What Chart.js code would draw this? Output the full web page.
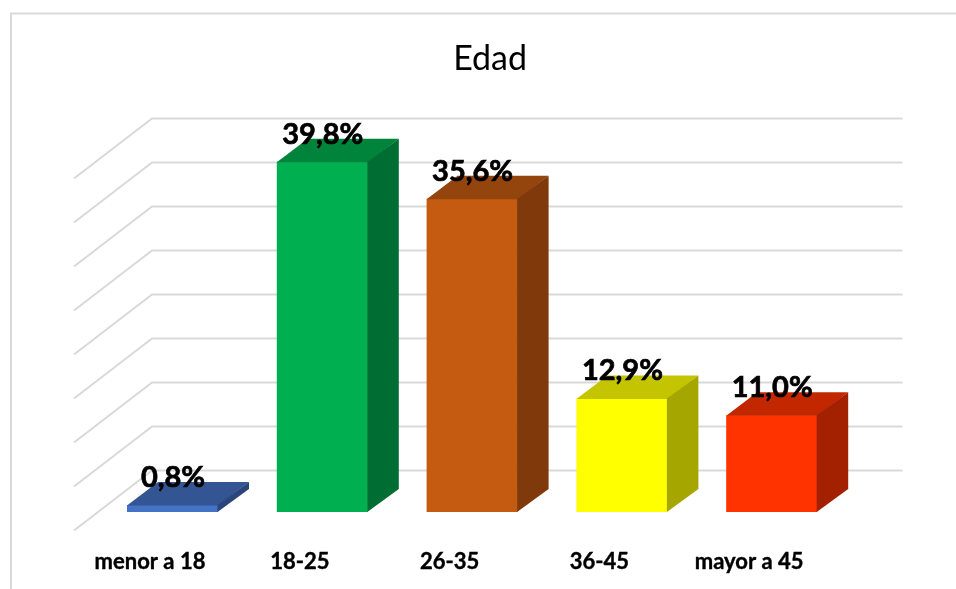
<!DOCTYPE html>
<html><head><meta charset="utf-8">
<style>html,body{margin:0;padding:0;background:#fff}canvas{display:block}</style>
<script src="https://cdn.jsdelivr.net/npm/chart.js@4"></script>
</head><body>
<canvas id="c" width="956" height="589"></canvas>
<script>
const categories = ['menor a 18', '18-25', '26-35', '36-45', 'mayor a 45'];
const values = [0.8, 39.8, 35.6, 12.9, 11.0];
const valueLabels = ['0,8%', '39,8%', '35,6%', '12,9%', '11,0%'];
const frontColors = ['#4472C4', '#00B050', '#C55A11', '#FFFF00', '#FF3300'];
const topColors = ['#335593', '#00843C', '#94440D', '#C4C400', '#C22700'];
const sideColors = ['#2A4679', '#006E32', '#7F390B', '#A6A600', '#A32100'];

const DEPTH_X = 31, DEPTH_Y = 23;
const WALL_SHIFT = 41.5, WALL_LEFT = 152, WALL_RIGHT = 902.5, WALL_DX = 78, WALL_DY = 60;

const scene = {
  id: 'scene',
  afterLayout(chart) {
    chart.titleBlock.left += 18;
    chart.titleBlock.right += 18;
  },
  beforeDatasetsDraw(chart) {
    const ctx = chart.ctx, y = chart.scales.y;
    ctx.save();
    ctx.strokeStyle = '#D9D9D9';
    ctx.lineWidth = 2;
    ctx.beginPath();
    ctx.moveTo(956, 13.5); ctx.lineTo(11, 13.5); ctx.lineTo(11, 589);
    ctx.stroke();
    y.ticks.forEach(t => {
      const py = y.getPixelForValue(t.value) - WALL_SHIFT;
      ctx.beginPath();
      ctx.moveTo(WALL_LEFT - WALL_DX, py + WALL_DY);
      ctx.lineTo(WALL_LEFT, py);
      ctx.lineTo(WALL_RIGHT, py);
      ctx.stroke();
    });
    ctx.restore();
  },
  afterDatasetsDraw(chart) {
    const ctx = chart.ctx;
    const bars = chart.getDatasetMeta(0).data;
    ctx.save();
    bars.forEach((b, i) => {
      const l = b.x - b.width / 2, r = b.x + b.width / 2, t = b.y, bot = b.base;
      ctx.fillStyle = topColors[i];
      ctx.beginPath();
      ctx.moveTo(l, t + 0.5); ctx.lineTo(l + DEPTH_X, t - DEPTH_Y);
      ctx.lineTo(r + DEPTH_X, t - DEPTH_Y); ctx.lineTo(r, t + 0.5);
      ctx.closePath(); ctx.fill();
      ctx.fillStyle = sideColors[i];
      ctx.beginPath();
      ctx.moveTo(r - 0.5, t); ctx.lineTo(r + DEPTH_X, t - DEPTH_Y);
      ctx.lineTo(r + DEPTH_X, bot - DEPTH_Y); ctx.lineTo(r - 0.5, bot);
      ctx.closePath(); ctx.fill();
    });
    ctx.fillStyle = '#000';
    ctx.strokeStyle = '#000';
    ctx.lineWidth = 0.7;
    ctx.font = 'bold 29px Lato';
    ctx.textAlign = 'center';
    ctx.textBaseline = 'middle';
    bars.forEach((b, i) => {
      ctx.fillText(valueLabels[i], b.x + 0.5, b.y - 27.5);
      ctx.strokeText(valueLabels[i], b.x + 0.5, b.y - 27.5);
    });
    ctx.restore();
  }
};

new Chart(document.getElementById('c'), {
  type: 'bar',
  data: {
    labels: categories,
    datasets: [{ data: values, backgroundColor: frontColors, borderWidth: 0,
      barPercentage: 0.6075, categoryPercentage: 1 }]
  },
  options: {
    responsive: false,
    animation: false,
    layout: { padding: { left: 97.6, right: 109.4, top: 0, bottom: 0 } },
    plugins: {
      legend: { display: false },
      tooltip: { enabled: false },
      title: { display: true, text: 'Edad', color: '#000',
        font: { family: 'Lato', size: 34, weight: 'normal', lineHeight: 1.2 },
        padding: { top: 39, bottom: 80.2 } }
    },
    scales: {
      x: {
        afterFit(scale) { scale.height = 77; },
        grid: { display: false, drawTicks: false }, border: { display: false },
        ticks: { color: '#000', padding: 37, labelOffset: -22.5, maxRotation: 0, minRotation: 0, autoSkip: false,
          textStrokeColor: '#000', textStrokeWidth: 0.4,
          font: { family: 'Lato', size: 22, weight: 'bold', lineHeight: 1.2 } }
      },
      y: { display: false, min: 0, max: 40, ticks: { stepSize: 5 } }
    }
  },
  plugins: [scene]
});
</script>
</body></html>
